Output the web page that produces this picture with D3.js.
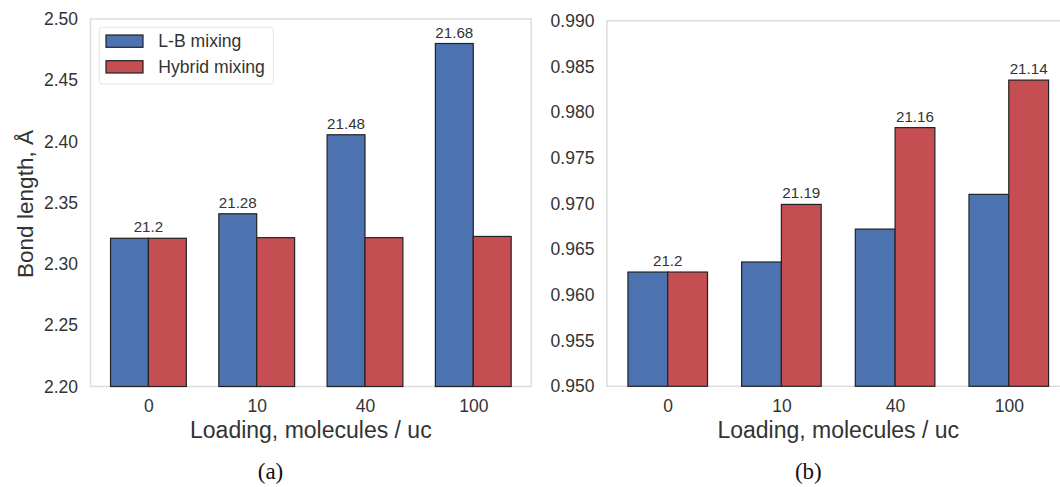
<!DOCTYPE html>
<html>
<head>
<meta charset="utf-8">
<script src="https://cdn.jsdelivr.net/npm/d3@7"></script>
<style>
html,body{margin:0;padding:0;background:#fff;}
svg{display:block;}
</style>
</head>
<body>
<svg id="chart" width="1060" height="487"></svg>
<script>
const categories = ["0", "10", "40", "100"];
const seriesNames = ["L-B mixing", "Hybrid mixing"];
// Panel (a): bond length, Å
const lbBondA = [2.321, 2.341, 2.4055, 2.480];
const hybridBondA = [2.321, 2.3215, 2.3215, 2.3225];
const labelsA = ["21.2", "21.28", "21.48", "21.68"];
const yTicksA = [2.20, 2.25, 2.30, 2.35, 2.40, 2.45, 2.50];
// Panel (b)
const lbBondB = [0.9625, 0.9636, 0.9672, 0.9710];
const hybridBondB = [0.9625, 0.9699, 0.9783, 0.9835];
const labelsB = ["21.2", "21.19", "21.16", "21.14"];
const yTicksB = [0.950, 0.955, 0.960, 0.965, 0.970, 0.975, 0.980, 0.985, 0.990];

const colors = ["#4c72b0", "#c44e52"];
const textColor = "#333333";
const font = "'Liberation Sans', Arial, sans-serif";
const svg = d3.select("#chart");

function panel(cfg) {
  const g = svg.append("g");
  const x = d3.scaleLinear().domain([-0.535, 3.535]).range([cfg.left, cfg.right]);
  const y = d3.scaleLinear().domain(cfg.yDomain).range([cfg.bottom, cfg.top]);
  const bw = 0.35;

  // frame
  g.append("rect")
    .attr("x", cfg.left).attr("y", cfg.top)
    .attr("width", cfg.right - cfg.left).attr("height", cfg.bottom - cfg.top)
    .attr("fill", "none").attr("stroke", "#dcdcdc").attr("stroke-width", 1.5);

  const series = [cfg.lb, cfg.hy];
  series.forEach((vals, si) => {
    g.selectAll(null).data(vals).enter().append("rect")
      .attr("x", (d, i) => x(i + (si === 0 ? -bw : 0)))
      .attr("width", x(bw) - x(0))
      .attr("y", d => y(d))
      .attr("height", d => y(cfg.yDomain[0]) - y(d))
      .attr("fill", colors[si])
      .attr("stroke", "#222")
      .attr("stroke-width", 1.2);
  });

  // value labels
  g.selectAll(null).data(cfg.labels).enter().append("text")
    .attr("x", (d, i) => {
      const a = cfg.lb[i], b = cfg.hy[i];
      if (Math.abs(a - b) < 1e-9) return x(i);
      return a > b ? x(i - bw / 2) : x(i + bw / 2);
    })
    .attr("y", (d, i) => y(Math.max(cfg.lb[i], cfg.hy[i])) - 6)
    .attr("text-anchor", "middle")
    .attr("font-family", font).attr("font-size", 15.2)
    .attr("fill", textColor)
    .text(d => d);

  // axes
  const xAxis = d3.axisBottom(x).tickValues([0, 1, 2, 3])
    .tickFormat(i => categories[i]).tickSize(0).tickPadding(13);
  const xa = g.append("g").attr("transform", `translate(0,${cfg.bottom})`).call(xAxis);
  xa.select(".domain").remove();
  xa.selectAll("text").attr("font-family", font).attr("font-size", 17.5).attr("fill", textColor);

  const yAxis = d3.axisLeft(y).tickValues(cfg.yTicks)
    .tickFormat(d3.format(cfg.fmt)).tickSize(0).tickPadding(12.5);
  const ya = g.append("g").attr("transform", `translate(${cfg.left},0)`).call(yAxis);
  ya.select(".domain").remove();
  ya.selectAll("text").attr("font-family", font).attr("font-size", 17.5).attr("fill", textColor);

  // x label
  g.append("text")
    .attr("x", (cfg.left + cfg.right) / 2).attr("y", 438)
    .attr("text-anchor", "middle")
    .attr("font-family", font).attr("font-size", 23)
    .attr("fill", textColor)
    .text("Loading, molecules / uc");

  // caption
  g.append("text")
    .attr("x", cfg.captionX).attr("y", 479)
    .attr("text-anchor", "middle")
    .attr("font-family", "'Liberation Serif', serif").attr("font-size", 23)
    .attr("fill", "#111")
    .text(cfg.caption);
  return {x, y, g};
}

const pa = panel({
  left: 90.5, right: 531.2, top: 19, bottom: 386.5,
  yDomain: [2.20, 2.50], yTicks: yTicksA, fmt: ".2f",
  lb: lbBondA, hy: hybridBondA, labels: labelsA,
  captionX: 270.5, caption: "(a)"
});

const pb = panel({
  left: 606.9, right: 1069.6, top: 20.7, bottom: 386.3,
  yDomain: [0.950, 0.990], yTicks: yTicksB, fmt: ".3f",
  lb: lbBondB, hy: hybridBondB, labels: labelsB,
  captionX: 808.3, caption: "(b)"
});

// y label for panel (a)
svg.append("text")
  .attr("transform", "translate(33,204) rotate(-90)")
  .attr("text-anchor", "middle")
  .attr("font-family", font).attr("font-size", 22.6)
  .attr("fill", textColor)
  .text("Bond length, Å");

// legend (panel a)
const lg = svg.append("g");
lg.append("rect")
  .attr("x", 99.3).attr("y", 27.3).attr("width", 174).attr("height", 56.7)
  .attr("rx", 3).attr("fill", "#fff").attr("stroke", "#e3e3e3").attr("stroke-width", 1);
seriesNames.forEach((name, i) => {
  const cy = 41 + i * 25.7;
  lg.append("rect")
    .attr("x", 106).attr("y", cy - 6).attr("width", 37).attr("height", 12.3)
    .attr("fill", colors[i]).attr("stroke", "#222").attr("stroke-width", 1.2);
  lg.append("text")
    .attr("x", 158.3).attr("y", cy + 6)
    .attr("font-family", font).attr("font-size", 17.6)
    .attr("fill", textColor)
    .text(name);
});
</script>
</body>
</html>
